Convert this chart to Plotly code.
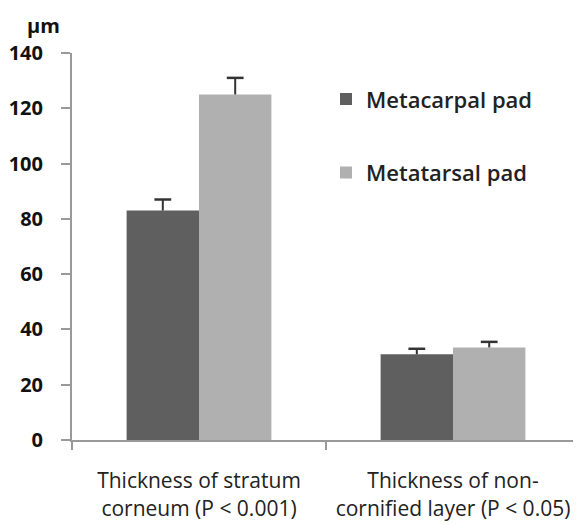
import plotly.graph_objects as go

categories = ["Thickness of stratum<br>corneum (P < 0.001)",
              "Thickness of non-<br>cornified layer (P < 0.05)"]
metacarpal = [83, 31]
metacarpal_err = [4, 2]
metatarsal = [125, 33.5]
metatarsal_err = [6, 2]
y_ticks = [0, 20, 40, 60, 80, 100, 120, 140]

FONT = "Open Sans"
DARK = "#5f5f5f"
LIGHT = "#b0b0b0"
ERR = "#333333"
AXIS = "#999999"
BAR_W = 0.285

idx = list(range(len(categories)))
n = len(categories)

fig = go.Figure()
series = [
    ("Metacarpal pad", metacarpal, metacarpal_err, DARK, -BAR_W, "a"),
    ("Metatarsal pad", metatarsal, metatarsal_err, LIGHT, 0.0, "b"),
]
for name, vals, errs, color, off, grp in series:
    fig.add_trace(go.Bar(
        x=idx, y=vals, name=name, width=BAR_W, offset=off,
        marker=dict(color=color, line=dict(width=0)),
        error_y=dict(type="data", array=errs, symmetric=False,
                     arrayminus=[0] * n, color=ERR, thickness=2, width=0),
        legendgroup=grp,
    ))
for name, vals, errs, color, off, grp in series:
    fig.add_trace(go.Scatter(
        x=[i + off + BAR_W / 2 for i in idx],
        y=[v + e for v, e in zip(vals, errs)],
        mode="markers", showlegend=False, hoverinfo="skip",
        marker=dict(symbol="line-ew", size=12,
                    line=dict(color=ERR, width=2.5)),
    ))

fig.update_layout(
    width=581, height=525,
    margin=dict(l=64, r=9, t=45, b=93),
    paper_bgcolor="white", plot_bgcolor="white",
    barmode="overlay",
    font=dict(family=FONT, color="#222222"),
    showlegend=True,
    legend=dict(x=0.5, y=0.935, xanchor="left", yanchor="top",
                bgcolor="rgba(0,0,0,0)", tracegroupgap=42,
                traceorder="grouped",
                font=dict(family=FONT, size=22, color="#222222", weight=600),
                itemwidth=30),
    xaxis=dict(range=[-0.5, len(categories) - 0.5], tickvals=idx, ticktext=categories,
               showline=True, linecolor=AXIS, linewidth=2, automargin=False,
               ticks="", ticklabelstandoff=21,
               minor=dict(tickvals=[i - 0.5 for i in range(n + 1)], ticks="outside",
                          ticklen=8, tickcolor=AXIS, tickwidth=2),
               tickfont=dict(family=FONT, size=21, color="#222222"),
               showgrid=False, zeroline=False),
    yaxis=dict(range=[0, 140], tickvals=y_ticks, showline=True, linecolor=AXIS,
               linewidth=2, ticks="outside", ticklen=9, tickcolor=AXIS, tickwidth=2,
               ticklabelstandoff=14, automargin=False,
               tickfont=dict(family=FONT, size=20, color="#111111", weight=700),
               showgrid=False, zeroline=False),
    annotations=[dict(text="µm", xref="paper", yref="paper", x=-0.0925, y=1.072,
                      xanchor="left", yanchor="middle", showarrow=False,
                      font=dict(family=FONT, size=20, color="#111111", weight=700))],
)

fig.write_html("out.html")
